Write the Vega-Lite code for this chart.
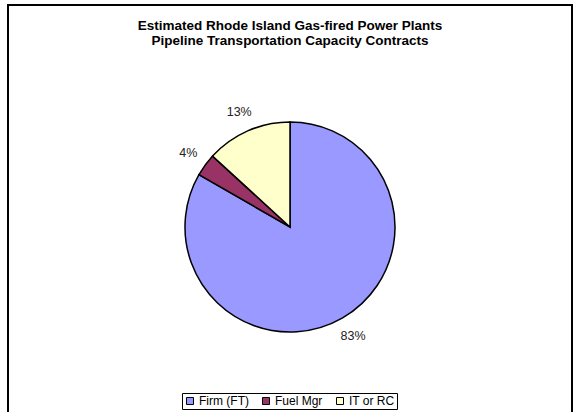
{
  "$schema": "https://vega.github.io/schema/vega-lite/v6.json",
  "width": 564,
  "height": 420,
  "padding": {"left": 8, "top": 5, "right": 6, "bottom": 0},
  "autosize": "none",
  "background": "white",
  "view": {"stroke": "black", "strokeWidth": 2, "fill": "white"},
  "config": {
    "font": "Liberation Sans"
  },
  "title": {
    "text": ["Estimated Rhode Island Gas-fired Power Plants", "Pipeline Transportation Capacity Contracts"],
    "anchor": "middle",
    "offset": -42,
    "fontSize": 13.5,
    "fontWeight": "bold",
    "font": "Liberation Sans",
    "color": "black",
    "lineHeight": 14.5
  },
  "data": {
    "values": [
      {"k": 1, "category": "Firm (FT)", "value": 83.3, "label": "83%"},
      {"k": 2, "category": "Fuel Mgr", "value": 3.5, "label": "4%"},
      {"k": 3, "category": "IT or RC", "value": 13.2, "label": "13%"}
    ]
  },
  "encoding": {
    "theta": {"field": "value", "type": "quantitative", "stack": true},
    "order": {"field": "k", "type": "quantitative"}
  },
  "layer": [
    {
      "mark": {"type": "arc", "outerRadius": 105, "stroke": "black", "strokeWidth": 1.5, "yOffset": 12},
      "encoding": {
        "color": {
          "field": "category",
          "type": "nominal",
          "scale": {"domain": ["Firm (FT)", "Fuel Mgr", "IT or RC"], "range": ["#9999FF", "#993366", "#FFFFCC"]},
          "legend": {
            "title": null,
            "orient": "none",
            "direction": "horizontal",
            "legendX": 174,
            "legendY": 388,
            "strokeColor": "black",
            "padding": 2,
            "symbolType": "square",
            "symbolSize": 49,
            "symbolStrokeColor": "black",
            "symbolStrokeWidth": 1,
            "symbolOpacity": 1,
            "labelFontSize": 12,
            "labelFont": "Liberation Sans",
            "labelColor": "black",
            "labelOffset": 3,
            "columnPadding": 11
          }
        }
      }
    },
    {
      "mark": {"type": "text", "radius": 126, "yOffset": 12, "fontSize": 12.5, "font": "Liberation Sans", "color": "#222"},
      "encoding": {"text": {"field": "label"}}
    }
  ]
}
